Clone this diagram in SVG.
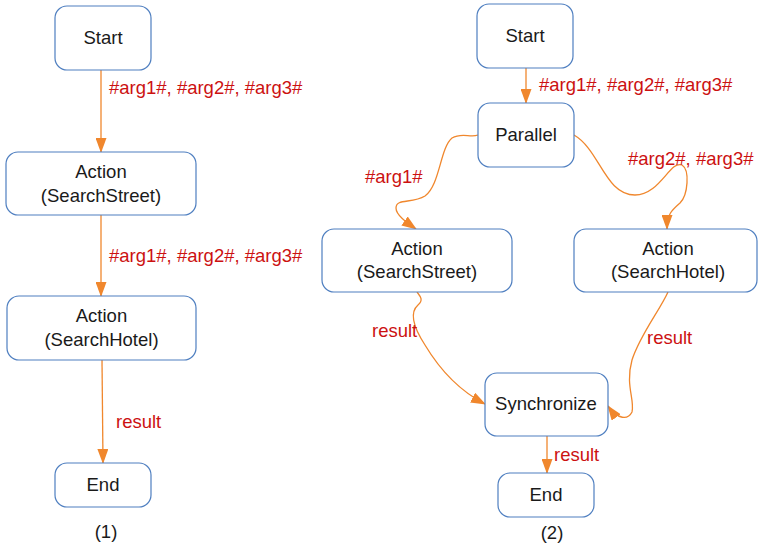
<svg xmlns="http://www.w3.org/2000/svg" width="758" height="545" viewBox="0 0 758 545">
<style>
.node rect{fill:#ffffff;stroke:#4f7fc0;stroke-width:1.2}
.node text{font-family:"Liberation Sans",Arial,sans-serif;font-size:18.5px;fill:#1a1a1a;text-anchor:middle}
.edge{fill:none;stroke:#f0872d;stroke-width:1.3;marker-end:url(#arr)}
.lbl{font-family:"Liberation Sans",Arial,sans-serif;font-size:18.5px;fill:#cc1111}
.cap{font-family:"Liberation Sans",Arial,sans-serif;font-size:18.5px;fill:#1a1a1a;text-anchor:middle}
</style>
<defs>
<marker id="arr" markerWidth="15" markerHeight="11" refX="14" refY="5.5" orient="auto" markerUnits="userSpaceOnUse">
<path d="M0,0 L15,5.5 L0,11 z" fill="#f0872d"/>
</marker>
</defs>
<rect width="758" height="545" fill="#ffffff"/>
<g id="connectors">
<path class="edge" d="M101,70 L101,152"/>
<path class="edge" d="M101,215 L101,296"/>
<path class="edge" d="M102,360 L103,463"/>
<path class="edge" d="M526,68 L526,103"/>
<path class="edge" d="M478,135 C470,138 462,132 452,138 C440,148 440,185 425,196 C412,204 396,198 396,208 C396,215 406,222 416,229"/>
<path class="edge" d="M574,135 C600,150 605,195 635,195 C660,195 670,160 682,165 C690,170 688,195 680,203 C672,210 667,214 667,229"/>
<path class="edge" d="M417,292 C420,296 424,300 418,305 C410,312 412,325 425,345 C440,370 458,390 485,404"/>
<path class="edge" d="M668,292 C660,310 640,335 632,360 C625,385 635,400 632,412 C628,420 618,420 608,406"/>
<path class="edge" d="M547,436 L547,473"/>
<text class="lbl" x="109" y="94">#arg1#, #arg2#, #arg3#</text>
<text class="lbl" x="109" y="262">#arg1#, #arg2#, #arg3#</text>
<text class="lbl" x="116" y="428">result</text>
<text class="lbl" x="539" y="91">#arg1#, #arg2#, #arg3#</text>
<text class="lbl" x="365" y="183">#arg1#</text>
<text class="lbl" x="628" y="165">#arg2#, #arg3#</text>
<text class="lbl" x="372" y="337">result</text>
<text class="lbl" x="647" y="344">result</text>
<text class="lbl" x="554" y="461">result</text>
</g>
<g id="start1" class="node"><rect x="55" y="6" width="96" height="64" rx="12"/><text x="103" y="44">Start</text></g>
<g id="action1a" class="node"><rect x="6" y="152" width="190" height="63" rx="12"/><text x="101" y="178">Action</text><text x="101" y="202">(SearchStreet)</text></g>
<g id="action1b" class="node"><rect x="7" y="296" width="189" height="64" rx="12"/><text x="101.5" y="322">Action</text><text x="101.5" y="346">(SearchHotel)</text></g>
<g id="end1" class="node"><rect x="55" y="463" width="96" height="44" rx="12"/><text x="103" y="491">End</text></g>
<g id="start2" class="node"><rect x="477" y="4" width="96" height="64" rx="12"/><text x="525" y="42">Start</text></g>
<g id="parallel" class="node"><rect x="478" y="103" width="96" height="64" rx="12"/><text x="526" y="141">Parallel</text></g>
<g id="action2a" class="node"><rect x="322" y="229" width="190" height="63" rx="12"/><text x="417" y="255">Action</text><text x="417" y="278">(SearchStreet)</text></g>
<g id="action2b" class="node"><rect x="574" y="229" width="183" height="63" rx="12"/><text x="668" y="255">Action</text><text x="668" y="278">(SearchHotel)</text></g>
<g id="sync" class="node"><rect x="485" y="373" width="123" height="63" rx="12"/><text x="546" y="410">Synchronize</text></g>
<g id="end2" class="node"><rect x="498" y="473" width="96" height="44" rx="12"/><text x="546" y="501">End</text></g>
<text class="cap" x="106" y="538">(1)</text>
<text class="cap" x="552" y="539">(2)</text>
</svg>
